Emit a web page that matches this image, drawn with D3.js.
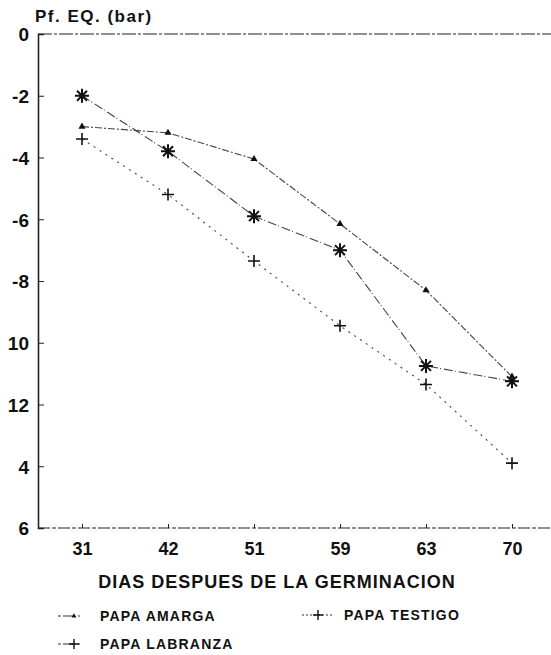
<!DOCTYPE html>
<html>
<head>
<meta charset="utf-8">
<script src="https://cdn.jsdelivr.net/npm/d3@7"></script>
<style>
  body { margin: 0; background: #fff; }
  text { font-family: "Liberation Sans", Arial, sans-serif; font-weight: bold; fill: #111; }
  .axis text { font-size: 18px; }
  .yaxis text { font-size: 19px; }
  .axis path, .axis line { stroke: #222; }
</style>
</head>
<body>
<svg id="chart"></svg>
<script>
// days after germination (x categories)
var days = ["31", "42", "51", "59", "63", "70"];
// Pf. EQ. in bar
var amarga   = [-3.0, -3.2, -4.05, -6.15, -8.3, -11.1];
var testigo  = [-3.4, -5.2, -7.35, -9.45, -11.35, -13.9];
var labranza = [-2.0, -3.8, -5.9, -7.0, -10.75, -11.25];
// y ticks and the labels as they appear on the scan
var yTicks = [0, -2, -4, -6, -8, -10, -12, -14, -16];
var yLabels = ["0", "-2", "-4", "-6", "-8", "10", "12", "4", "6"];

var width = 551, height = 655;
var margin = {top: 34, right: 0, bottom: 128, left: 38};

var svg = d3.select("#chart").attr("width", width).attr("height", height);

var x = d3.scalePoint().domain(days).range([margin.left + 1, width + 4]).padding(0.5);
var y = d3.scaleLinear().domain([0, -16]).range([margin.top, height - margin.bottom + 1]);

/* ~~~ frame lines (top and bottom look dashed on the scan) ~~~ */
svg.append("line")
  .attr("x1", margin.left).attr("x2", width)
  .attr("y1", y(0)).attr("y2", y(0))
  .attr("stroke", "#222").attr("stroke-width", 1.2)
  .attr("stroke-dasharray", "14,2,3,2");

svg.append("line")
  .attr("x1", margin.left).attr("x2", width)
  .attr("y1", y(-16)).attr("y2", y(-16))
  .attr("stroke", "#222").attr("stroke-width", 1.2)
  .attr("stroke-dasharray", "12,2,4,2");

/* ~~~ y axis ~~~ */
var yAxis = d3.axisLeft(y)
  .tickValues(yTicks)
  .tickSize(-6)
  .tickPadding(9)
  .tickFormat(function(d, i) { return yLabels[i]; });

var gy = svg.append("g").attr("class", "axis yaxis")
  .attr("transform", "translate(" + margin.left + ",0)")
  .call(yAxis);
gy.select(".domain").attr("stroke-width", 1.6);
gy.selectAll("text").attr("dy", "0.36em");

/* ~~~ x axis ~~~ */
var xAxis = d3.axisBottom(x).tickSize(-4).tickPadding(14);
var gx = svg.append("g").attr("class", "axis")
  .attr("transform", "translate(0," + y(-16) + ")")
  .call(xAxis);
gx.select(".domain").remove();

// axis title & y label
svg.append("text")
  .attr("x", 277).attr("y", 588)
  .attr("text-anchor", "middle")
  .style("font-size", "18px").style("letter-spacing", "1px")
  .text("DIAS DESPUES DE LA GERMINACION");

svg.append("text")
  .attr("x", 35).attr("y", 22)
  .style("font-size", "17px").style("letter-spacing", "1.5px")
  .text("Pf. EQ. (bar)");

/* ~~~ series ~~~ */
var series = [
  {name: "PAPA AMARGA", values: amarga, dash: "7,2,2,2", marker: "tri"},
  {name: "PAPA TESTIGO", values: testigo, dash: "2,5", marker: "plus"},
  {name: "PAPA LABRANZA", values: labranza, dash: "9,2,1,3", marker: "star"}
];

var line = d3.line()
  .x(function(d, i) { return x(days[i]); })
  .y(function(d) { return y(d); });

function drawMarker(g, type, cx, cy) {
  if (type === "tri") {
    g.append("path")
      .attr("d", d3.symbol().type(d3.symbolTriangle).size(22)())
      .attr("transform", "translate(" + cx + "," + cy + ")")
      .attr("fill", "#111");
  } else if (type === "plus") {
    g.append("path")
      .attr("d", "M-6,0H6M0,-6V6")
      .attr("transform", "translate(" + cx + "," + cy + ")")
      .attr("stroke", "#111").attr("stroke-width", 1.6).attr("fill", "none");
  } else {
    g.append("path")
      .attr("d", "M-7,0H7M0,-7V7M-5,-5L5,5M-5,5L5,-5")
      .attr("transform", "translate(" + cx + "," + cy + ")")
      .attr("stroke", "#111").attr("stroke-width", 2).attr("fill", "none");
  }
}

var plot = svg.append("g");
series.forEach(function(s) {
  plot.append("path")
    .datum(s.values)
    .attr("d", line)
    .attr("fill", "none")
    .attr("stroke", "#444")
    .attr("stroke-width", 1.1)
    .attr("stroke-dasharray", s.dash);
  s.values.forEach(function(v, i) {
    drawMarker(plot, s.marker, x(days[i]), y(v));
  });
});

/* ~~~ legend ~~~ */
var legendPos = [[58, 616], [302, 615], [58, 644]];
series.forEach(function(s, i) {
  var lg = svg.append("g").attr("transform", "translate(" + legendPos[i][0] + "," + legendPos[i][1] + ")");
  lg.append("line")
    .attr("x1", 0).attr("x2", 30).attr("y1", 0).attr("y2", 0)
    .attr("stroke", "#333").attr("stroke-width", 1.1)
    .attr("stroke-dasharray", i === 1 ? "2,2" : "3,2,12");
  if (s.marker === "tri") {
    lg.append("path").attr("d", d3.symbol().type(d3.symbolTriangle).size(10)())
      .attr("transform", "translate(16,0)").attr("fill", "#111");
  } else {
    lg.append("path").attr("d", "M-5,0H5M0,-5V5")
      .attr("transform", "translate(16,0)")
      .attr("stroke", "#111").attr("stroke-width", 1.4);
  }
  lg.append("text")
    .attr("x", 42).attr("y", 5)
    .style("font-size", "14px").style("letter-spacing", "1.2px")
    .text(s.name);
});
</script>
</body>
</html>
